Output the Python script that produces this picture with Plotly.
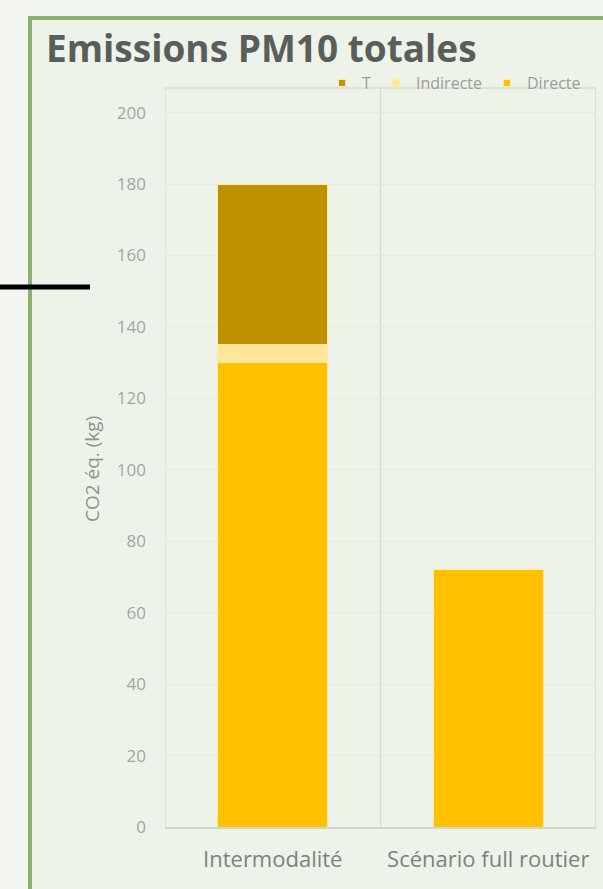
import plotly.graph_objects as go

categories = ["Intermodalité", "Scénario full routier"]
directe = [130, 72]
indirecte = [5, 0]
t_vals = [45, 0]
y_ticks = [0, 20, 40, 60, 80, 100, 120, 140, 160, 180, 200]

W, H = 603, 889
L, R, T, B = 165, 7, 88, 62
pw = W - L - R
ph = H - T - B

def px_x(p):
    return (p - L) / pw

def px_y(p):
    return (H - B - p) / ph

series = [("Directe", directe, "#FFC000"),
          ("Indirecte", indirecte, "#FFE699"),
          ("T", t_vals, "#BF9000")]

fig = go.Figure()
for name, vals, col in series:
    fig.add_bar(x=categories, y=vals, name=name, marker_color=col,
                marker_line_color="#FFE9A6", marker_line_width=1,
                legendgroup=name, showlegend=False)
for name, vals, col in series:
    fig.add_scatter(x=[None], y=[None], mode="markers", name=name,
                    legendgroup=name,
                    marker=dict(symbol="square", size=7, color=col,
                                line=dict(color="#FFE9A6", width=1)))

shapes = [
    dict(type="rect", xref="paper", yref="paper", x0=px_x(30), x1=px_x(620),
         y0=px_y(900), y1=px_y(18), fillcolor="#EDF3E9",
         line=dict(color="#8BB36C", width=4), layer="below"),
    dict(type="line", xref="paper", yref="paper", x0=px_x(0), x1=px_x(90),
         y0=px_y(287), y1=px_y(287), line=dict(color="#000000", width=5)),
]
for xv in [-0.5, 0.5, 1.5]:
    shapes.append(dict(type="line", xref="x", yref="paper", x0=xv, x1=xv,
                       y0=0, y1=1, line=dict(color="#D6DCD2", width=1.5),
                       layer="below"))
shapes.append(dict(type="line", xref="paper", yref="paper", x0=0, x1=1,
                   y0=1, y1=1, line=dict(color="#D6DCD2", width=1.5), layer="below"))

fig.update_layout(
    width=W, height=H,
    margin=dict(l=L, r=R, t=T, b=B),
    barmode="stack",
    bargap=0.49,
    paper_bgcolor="#F4F6F2",
    plot_bgcolor="rgba(0,0,0,0)",
    font=dict(family="Open Sans", color="#8A8F88"),
    title=dict(text="<b>Emissions PM10 totales</b>", x=46 / W,
               xanchor="left", y=1 - 49 / H, yanchor="middle",
               font=dict(family="Open Sans", size=37, color="#5A5E5A")),
    legend=dict(orientation="h", traceorder="normal", x=px_x(322), xanchor="left",
                y=px_y(83), yanchor="middle", font=dict(size=16, color="#9A9F98"),
                bgcolor="rgba(0,0,0,0)", itemwidth=30),
    showlegend=True,
    shapes=shapes,
    xaxis=dict(type="category", range=[-0.5, 1.5], showgrid=False,
               showline=True, linecolor="#D0D6CC", linewidth=1.5,
               tickfont=dict(size=22, color="#7E827C"), ticks="",
               ticklabelstandoff=12),
    yaxis=dict(range=[0, 206.9], tickvals=y_ticks, ticktext=[str(v) for v in y_ticks],
               showgrid=True, gridcolor="#E2E8DE", gridwidth=1, zeroline=False,
               tickfont=dict(size=17, color="#A2A79F"), ticklabelstandoff=18,
               showline=False),
    annotations=[dict(text="CO2 éq. (kg)", xref="paper", yref="paper",
                      x=px_x(92), y=px_y(469), xanchor="center", yanchor="middle",
                      textangle=-90, showarrow=False,
                      font=dict(size=19, color="#8E938C"))],
)

# legend order: T, Indirecte, Directe
fig.data = fig.data[:3] + fig.data[3:][::-1]

fig.write_html("out.html", post_script="document.body.style.margin='0';",
               config={"displayModeBar": False})
